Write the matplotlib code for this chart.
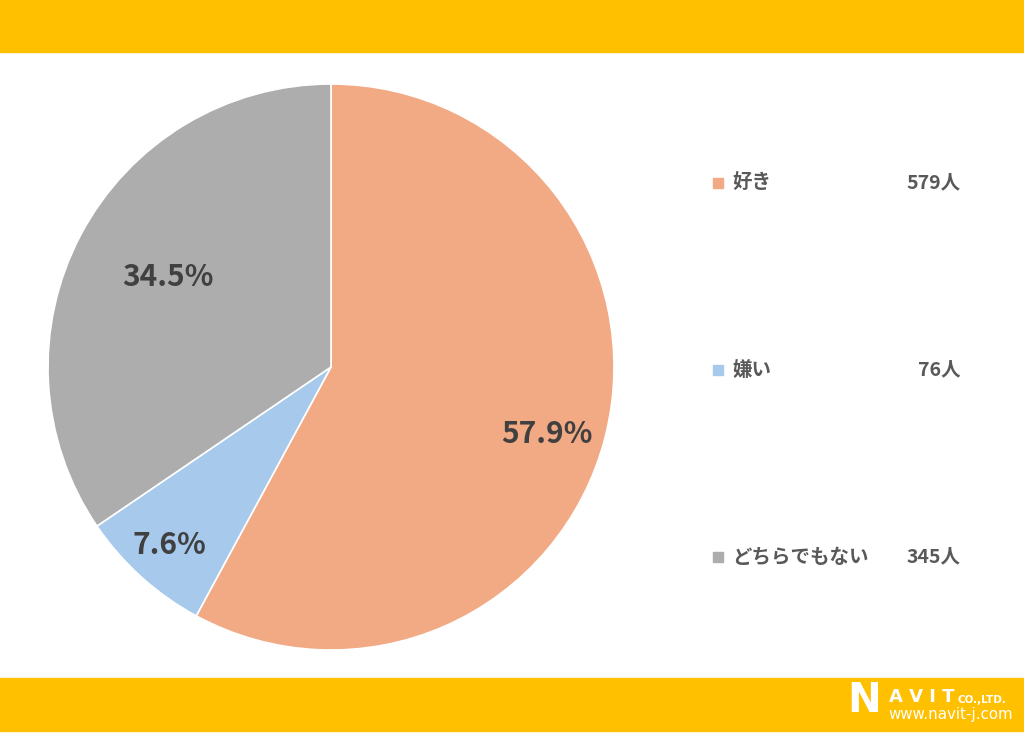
import numpy as np
import matplotlib.pyplot as plt
from matplotlib.patches import Rectangle

plt.rcParams['font.family'] = ['Noto Sans CJK JP', 'DejaVu Sans']

LABELS = ['好き', '嫌い', 'どちらでもない']
COUNTS = [579, 76, 345]
PERCENTS = [57.9, 7.6, 34.5]
COLORS = ['#F2AA84', '#A6C9EC', '#ADADAD']

# label placement tweaks (fraction of radius, angle shift in degrees)
LABEL_DIST = [0.80, 0.85, 0.66]
LABEL_SHIFT = [-3, 0, -1]

YELLOW = '#FFC000'
TEXT_DARK = '#404040'
TEXT_GREY = '#595959'

W, H = 1024, 733
fig = plt.figure(figsize=(W / 100, H / 100), dpi=100)
fig.patch.set_facecolor('white')

# yellow header and footer bands
fig.patches.append(Rectangle((0, 1 - 52 / H), 1, 52 / H, transform=fig.transFigure,
                             color=YELLOW, zorder=0))
fig.patches.append(Rectangle((0, 2 / H), 1, 53 / H, transform=fig.transFigure,
                             color=YELLOW, zorder=0))

# pie
cx, cy, r = 331, 367, 283
ax = fig.add_axes([(cx - r) / W, (H - cy - r) / H, 2 * r / W, 2 * r / H])
wedges, _ = ax.pie(COUNTS, colors=COLORS, startangle=90, counterclock=False,
                   wedgeprops=dict(edgecolor='white', linewidth=1.2))
ax.set_xlim(-1, 1)
ax.set_ylim(-1, 1)
ax.set_aspect('equal')
ax.axis('off')

for w, pct, d, s in zip(wedges, PERCENTS, LABEL_DIST, LABEL_SHIFT):
    theta = np.deg2rad((w.theta1 + w.theta2) / 2 + s)
    ax.text(d * np.cos(theta), d * np.sin(theta), f'{pct:.1f}%',
            ha='center', va='center', fontsize=21.5, fontweight='bold',
            color=TEXT_DARK)

# legend
legend_y = [183, 370, 557]
for lab, cnt, col, y in zip(LABELS, COUNTS, COLORS, legend_y):
    yf = 1 - y / H
    fig.patches.append(Rectangle((713 / W, yf - 5 / H), 10 / W, 10 / H,
                                 transform=fig.transFigure, color=col))
    fig.text(732 / W, yf, lab, ha='left', va='center', fontsize=14,
             fontweight='bold', color=TEXT_GREY)
    fig.text(961 / W, yf, f'{cnt}人', ha='right', va='center', fontsize=14,
             fontweight='bold', color=TEXT_GREY)

# logo
logo_font = ['DejaVu Sans']
fig.text(847 / W, 1 - 701 / H, 'N', ha='left', va='center', fontsize=29,
         fontweight='heavy', color='white', family=logo_font)
fig.text(889 / W, 1 - 696.5 / H, 'A V I T', ha='left', va='center', fontsize=13,
         fontweight='bold', color='white', family=logo_font)
fig.text(957 / W, 1 - 700 / H, 'CO.,LTD.', ha='left', va='center', fontsize=7.5,
         fontweight='bold', color='white', family=logo_font)
fig.text(888 / W, 1 - 715 / H, 'www.navit-j.com', ha='left', va='center',
         fontsize=10.8, color='white', family=logo_font)

fig.savefig('out.png', dpi=100)
